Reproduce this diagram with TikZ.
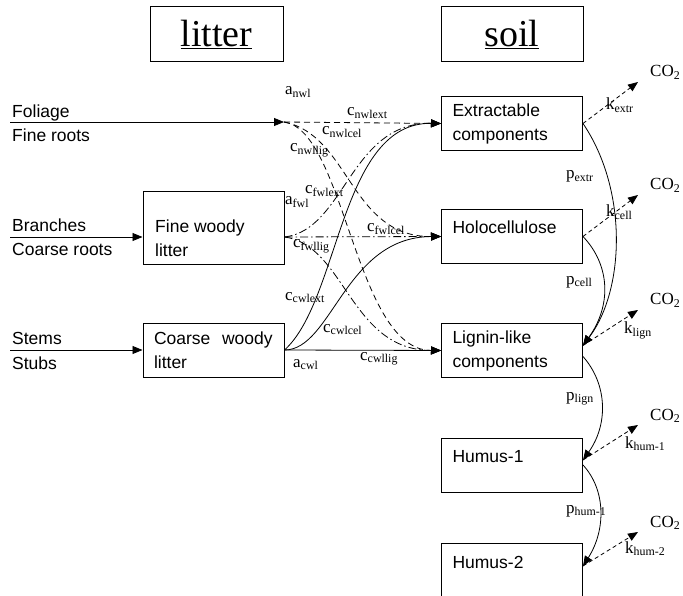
\documentclass[tikz,border=0pt]{standalone}
\usepackage{fontspec}
\setmainfont{Liberation Serif}
\setsansfont{Liberation Sans}
\usetikzlibrary{arrows.meta,positioning}

\tikzset{
  pool/.style={draw, line width=1pt, text width=119pt, inner xsep=11pt, inner ysep=4pt,
    minimum height=54pt, align=left, font=\sffamily\fontsize{17.5}{24}\selectfont},
  oneline/.style={text height=12.5pt, text depth=18pt},
  head/.style={draw, line width=1pt, minimum height=55pt, font=\fontsize{38}{42}\selectfont},
  intext/.style={anchor=base west, inner sep=0pt, align=left, font=\sffamily\fontsize{17.5}{24}\selectfont},
  lab/.style={anchor=base west, inner sep=0pt, font=\fontsize{17}{19}\selectfont},
  feed/.style={line width=0.8pt, -{Triangle[length=10pt,width=8pt]}},
  nwlflow/.style={feed, dash pattern=on 6pt off 4pt},
  fwlflow/.style={feed, dash pattern=on 8pt off 3pt on 1.5pt off 3pt},
  cwlflow/.style={feed},
  resp/.style={feed, dash pattern=on 4pt off 3pt},
}

\begin{document}
\begin{tikzpicture}[x=1pt,y=-1pt]
\useasboundingbox (0,0) rectangle (683,596);

% headers
\node[head, minimum width=133pt] (litter) at (216.5,34.5) {\underline{litter}};
\node[head, minimum width=142pt] (soil) at (512,34.5) {\underline{soil}};

% litter pools
\node[pool, minimum height=73pt] (fwl) at (213.5,228.5) {};
\node[intext, anchor=north west] (fwltxt) at (155,219.5) {Fine woody\\litter};
\node[pool] (cwl) at (213.5,350.5) {Coarse~ woody\\litter};

% soil pools
\node[pool] (ext) at (512,123.5) {Extractable\\components};
\node[pool, oneline] (cel) at (512,236.5) {Holocellulose};
\node[pool] (lig) at (512,350.5) {Lignin-like\\components};
\node[pool, oneline] (hum1) at (512,465) {Humus-1};
\node[pool, oneline, minimum height=56pt] (hum2) at (512,571) {Humus-2};

% inputs
\coordinate (folin) at (10,122);
\coordinate (brin) at (10,237);
\coordinate (stin) at (10,350);
\coordinate (nwl) at (284,122);
\coordinate (fwlout) at (brin -| fwl.east);
\coordinate (cwlout) at (stin -| cwl.east);
\node[intext] (foliage) at (12,118) {Foliage};
\node[intext] (fineroots) at (12,142) {Fine roots};
\node[intext] (branches) at (12,232) {Branches};
\node[intext] (coarseroots) at (12,256) {Coarse roots};
\node[intext] (stems) at (12,344) {Stems};
\node[intext] (stubs) at (12,369) {Stubs};
\draw[feed] (folin) -- (nwl);
\draw[feed] (brin) -- (brin -| fwl.west);
\draw[feed] (stin) -- (stin -| cwl.west);

% litter -> soil
\draw[nwlflow] (nwl) -- (ext.west);
\draw[nwlflow] (nwl) .. controls (350,135) and (350,237) .. (cel.west);
\draw[nwlflow] (nwl) .. controls (345,130) and (355,350) .. (lig.west);
\draw[fwlflow] (fwlout) .. controls (345,230) and (350,122) .. (ext.west);
\draw[fwlflow] (fwlout) -- (cel.west);
\draw[fwlflow] (fwlout) .. controls (345,245) and (350,350) .. (lig.west);
\draw[cwlflow] (cwlout) .. controls (340,300) and (340,122) .. (ext.west);
\draw[cwlflow] (cwlout) .. controls (332,350) and (345,237) .. (cel.west);
\draw[cwlflow] (cwlout) -- (lig.west);

\node[lab] (anwl) at (285,95) {a\textsubscript{nwl}};
\node[lab] (cnwlext) at (347,116) {c\textsubscript{nwlext}};
\node[lab] (cnwlcel) at (322,135) {c\textsubscript{nwlcel}};
\node[lab] (cnwllig) at (290,152) {c\textsubscript{nwllig}};
\node[lab] (afwl) at (285,205) {a\textsubscript{fwl}};
\node[lab] (cfwlext) at (305,194) {c\textsubscript{fwlext}};
\node[lab] (cfwlcel) at (367,232) {c\textsubscript{fwlcel}};
\node[lab] (cfwllig) at (293,248) {c\textsubscript{fwllig}};
\node[lab] (ccwlext) at (285,300) {c\textsubscript{cwlext}};
\node[lab] (ccwlcel) at (323,332) {c\textsubscript{cwlcel}};
\node[lab] (acwl) at (293,367) {a\textsubscript{cwl}};
\node[lab] (ccwllig) at (360,360) {c\textsubscript{cwllig}};

% soil -> soil
\draw[feed] (ext.east) .. controls (628,190) and (625,290) .. ([yshift=5pt]lig.east);
\draw[feed] (cel.east) .. controls (610,265) and (612,305) .. ([yshift=5pt]lig.east);
\draw[feed] ([yshift=-6pt]lig.east) .. controls (608,385) and (608,425) .. ([yshift=5pt]hum1.east);
\draw[feed] (hum1.east) .. controls (606,490) and (606,530) .. ([yshift=5pt]hum2.east);
\node[lab] (pextr) at (566,179) {p\textsubscript{extr}};
\node[lab] (pcell) at (566,284) {p\textsubscript{cell}};
\node[lab] (plign) at (566,400) {p\textsubscript{lign}};
\node[lab] (phum) at (566,513) {p\textsubscript{hum-1}};

% respiration
\node[lab] (co2a) at (650,77) {CO\textsubscript{2}};
\node[lab] (co2b) at (650,190) {CO\textsubscript{2}};
\node[lab] (co2c) at (650,305) {CO\textsubscript{2}};
\node[lab] (co2d) at (650,420) {CO\textsubscript{2}};
\node[lab] (co2e) at (650,527) {CO\textsubscript{2}};
\draw[resp] (ext.east) -- ([xshift=-12pt,yshift=-5pt]co2a.base west);
\draw[resp] (cel.east) -- ([xshift=-12pt,yshift=-5pt]co2b.base west);
\draw[resp] ([yshift=5pt]lig.east) -- ([xshift=-12pt,yshift=-5pt]co2c.base west);
\draw[resp] ([yshift=5pt]hum1.east) -- ([xshift=-12pt,yshift=-5pt]co2d.base west);
\draw[resp] ([yshift=5pt]hum2.east) -- ([xshift=-12pt,yshift=-5pt]co2e.base west);
\node[lab] (kextr) at (606,110) {k\textsubscript{extr}};
\node[lab] (kcell) at (606,217) {k\textsubscript{cell}};
\node[lab] (klign) at (624,334) {k\textsubscript{lign}};
\node[lab] (khum1) at (625,448) {k\textsubscript{hum-1}};
\node[lab] (khum2) at (625,553) {k\textsubscript{hum-2}};
\end{tikzpicture}
\end{document}
